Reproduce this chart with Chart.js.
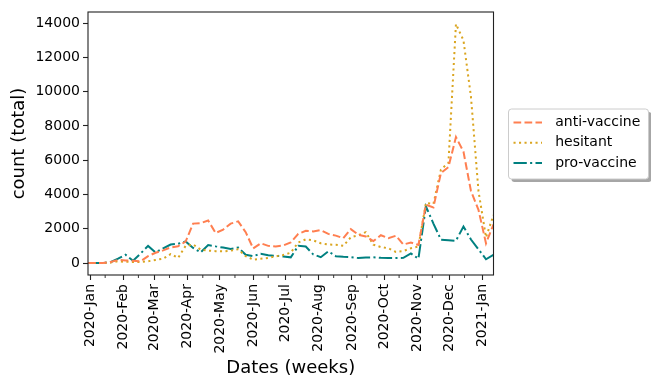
<!DOCTYPE html>
<html><head><meta charset="utf-8">
<script src="https://cdn.jsdelivr.net/npm/chart.js@4/dist/chart.umd.min.js"></script>
<style>html,body{margin:0;padding:0;background:#fff;}canvas{display:block;}</style>
</head><body>
<canvas id="c" width="651" height="377"></canvas>
<script>
// ---- data ----
const weekDates = ['2019-12-30','2020-01-06','2020-01-13','2020-01-20','2020-01-27','2020-02-03','2020-02-10','2020-02-17','2020-02-24','2020-03-02','2020-03-09','2020-03-16','2020-03-23','2020-03-30','2020-04-06','2020-04-13','2020-04-20','2020-04-27','2020-05-04','2020-05-11','2020-05-18','2020-05-25','2020-06-01','2020-06-08','2020-06-15','2020-06-22','2020-06-29','2020-07-06','2020-07-13','2020-07-20','2020-07-27','2020-08-03','2020-08-10','2020-08-17','2020-08-24','2020-08-31','2020-09-07','2020-09-14','2020-09-21','2020-09-28','2020-10-05','2020-10-12','2020-10-19','2020-10-26','2020-11-02','2020-11-09','2020-11-16','2020-11-23','2020-11-30','2020-12-07','2020-12-14','2020-12-21','2020-12-28','2021-01-04','2021-01-11'];
const antiVaccine = [0,0,0,60,180,150,130,100,400,600,740,910,980,1250,2300,2330,2480,1750,1950,2300,2430,1800,850,1150,1000,970,1020,1200,1700,1880,1840,1920,1700,1600,1450,1980,1650,1550,1280,1620,1450,1590,1080,1200,1050,3400,3250,5250,5600,7350,6500,4200,3100,1150,2250];
const hesitant = [0,0,0,30,100,70,60,60,100,180,250,520,300,1000,1080,780,720,690,680,720,800,400,200,250,300,390,470,600,1200,1380,1320,1150,1080,1060,1000,1500,1620,1800,1070,930,860,650,700,860,960,3500,3450,5450,5850,13950,13000,9700,4200,1500,2800];
const proVaccine = [0,0,0,50,250,480,130,550,1000,620,850,1080,1120,1260,880,620,1050,970,900,820,900,480,400,540,450,420,380,330,1000,960,500,340,680,400,360,340,290,320,330,300,290,290,300,560,250,3300,2300,1360,1330,1300,2130,1370,800,220,480];
const seriesNames = ['anti-vaccine','hesitant','pro-vaccine'];
const seriesColors = ['#FF7F50','#DAA520','#008080'];
const seriesDashes = [[7.7,3.3],[2.1,3.4],[13.3,3.3,2.1,3.3]];
const yTicks = [0,2000,4000,6000,8000,10000,12000,14000];
const monthTickDates = ['2020-01-01','2020-02-01','2020-03-01','2020-04-01','2020-05-01','2020-06-01','2020-07-01','2020-08-01','2020-09-01','2020-10-01','2020-11-01','2020-12-01','2021-01-01'];
const monthTickLabels = ['2020-Jan','2020-Feb','2020-Mar','2020-Apr','2020-May','2020-Jun','2020-Jul','2020-Aug','2020-Sep','2020-Oct','2020-Nov','2020-Dec','2021-Jan'];
const minorTickDates = ['2020-01-15','2020-02-15','2020-03-15','2020-04-15','2020-05-15','2020-06-15','2020-07-15','2020-08-15','2020-09-15','2020-10-15','2020-11-15','2020-12-15'];

function dayNum(s){const p=s.split('-').map(Number);return (Date.UTC(p[0],p[1]-1,p[2])-Date.UTC(2020,0,1))/86400000;}
const xDays = weekDates.map(dayNum);
const allSeries = [antiVaccine, hesitant, proVaccine];

const FONT = 'DejaVu Sans';
Chart.defaults.font.family = FONT;
Chart.defaults.color = '#000';

const framePlugin = {
  id:'frame',
  afterDatasetsDraw(chart){
    const ctx=chart.ctx, ca=chart.chartArea, xs=chart.scales.x;
    ctx.save();
    ctx.strokeStyle='#222'; ctx.lineWidth=1.1;
    ctx.strokeRect(ca.left, ca.top, ca.right-ca.left, ca.bottom-ca.top);
    ctx.lineWidth=0.9;
    minorTickDates.forEach(d=>{
      const px=xs.getPixelForValue(dayNum(d));
      ctx.beginPath(); ctx.moveTo(px, ca.bottom); ctx.lineTo(px, ca.bottom+3); ctx.stroke();
    });
    ctx.restore();
  }
};

const legendPlugin = {
  id:'mplLegend',
  afterDraw(chart){
    const ctx=chart.ctx, ca=chart.chartArea;
    const w=140, h=70;
    const x0=ca.right+15, y0=(ca.top+ca.bottom)/2 - h/2 + 0.5;
    ctx.save();
    ctx.fillStyle='rgba(77,77,77,0.5)';
    ctx.beginPath(); ctx.roundRect(x0+3, y0+3, w, h, 3); ctx.fill();
    ctx.fillStyle='#fff'; ctx.strokeStyle='#cccccc'; ctx.lineWidth=1;
    ctx.beginPath(); ctx.roundRect(x0, y0, w, h, 3); ctx.fill(); ctx.stroke();
    ctx.font='14px "'+FONT+'"'; ctx.textBaseline='middle'; ctx.textAlign='left';
    chart.data.datasets.forEach((ds,i)=>{
      const yy=y0+13.5+i*20.3;
      ctx.strokeStyle=ds.borderColor; ctx.lineWidth=ds.borderWidth; ctx.setLineDash(ds.borderDash||[]);
      ctx.beginPath(); ctx.moveTo(x0+5, yy); ctx.lineTo(x0+33.5, yy); ctx.stroke();
      ctx.setLineDash([]);
      ctx.fillStyle='#000';
      ctx.fillText(ds.label, x0+46.7, yy);
    });
    ctx.restore();
  }
};

new Chart(document.getElementById('c'), {
  type:'line',
  data:{
    datasets: allSeries.map((vals,i)=>({
      label: seriesNames[i],
      data: vals.map((v,j)=>({x:xDays[j], y:v})),
      borderColor: seriesColors[i],
      backgroundColor: seriesColors[i],
      borderWidth: 2,
      borderDash: seriesDashes[i],
      borderCapStyle:'butt',
      pointRadius:0,
      tension:0,
      fill:false
    }))
  },
  options:{
    responsive:false,
    animation:false,
    devicePixelRatio:1,
    layout:{padding:{top:12,right:157.5,left:0,bottom:0}},
    plugins:{legend:{display:false},tooltip:{enabled:false}},
    scales:{
      x:{
        type:'linear',
        min:xDays[0], max:xDays[xDays.length-1],
        afterBuildTicks(s){ s.ticks = monthTickDates.map(d=>({value:dayNum(d)})); },
        afterFit(s){ s.height = 102; },
        ticks:{ autoSkip:false, maxRotation:90, minRotation:90, padding:4, font:{size:14}, color:'#000',
          callback:(v,i)=>monthTickLabels[i] },
        grid:{ drawOnChartArea:false, drawTicks:true, tickLength:5, tickColor:'#222', tickWidth:1.1 },
        border:{ display:false },
        title:{ display:true, text:'Dates (weeks)', font:{size:18, lineHeight:1.0}, color:'#000', padding:{top:0,bottom:0} }
      },
      y:{
        type:'linear',
        min:-700, max:14650,
        afterBuildTicks(s){ s.ticks = yTicks.map(v=>({value:v})); },
        afterFit(s){ s.width = 88; },
        ticks:{ padding:3, font:{size:14}, color:'#000', callback:v=>String(v) },
        grid:{ drawOnChartArea:false, drawTicks:true, tickLength:5, tickColor:'#222', tickWidth:1.1 },
        border:{ display:false },
        title:{ display:true, text:'count (total)', font:{size:18}, color:'#000', padding:{top:9,bottom:0} }
      }
    }
  },
  plugins:[framePlugin, legendPlugin]
});
</script>
</body></html>
